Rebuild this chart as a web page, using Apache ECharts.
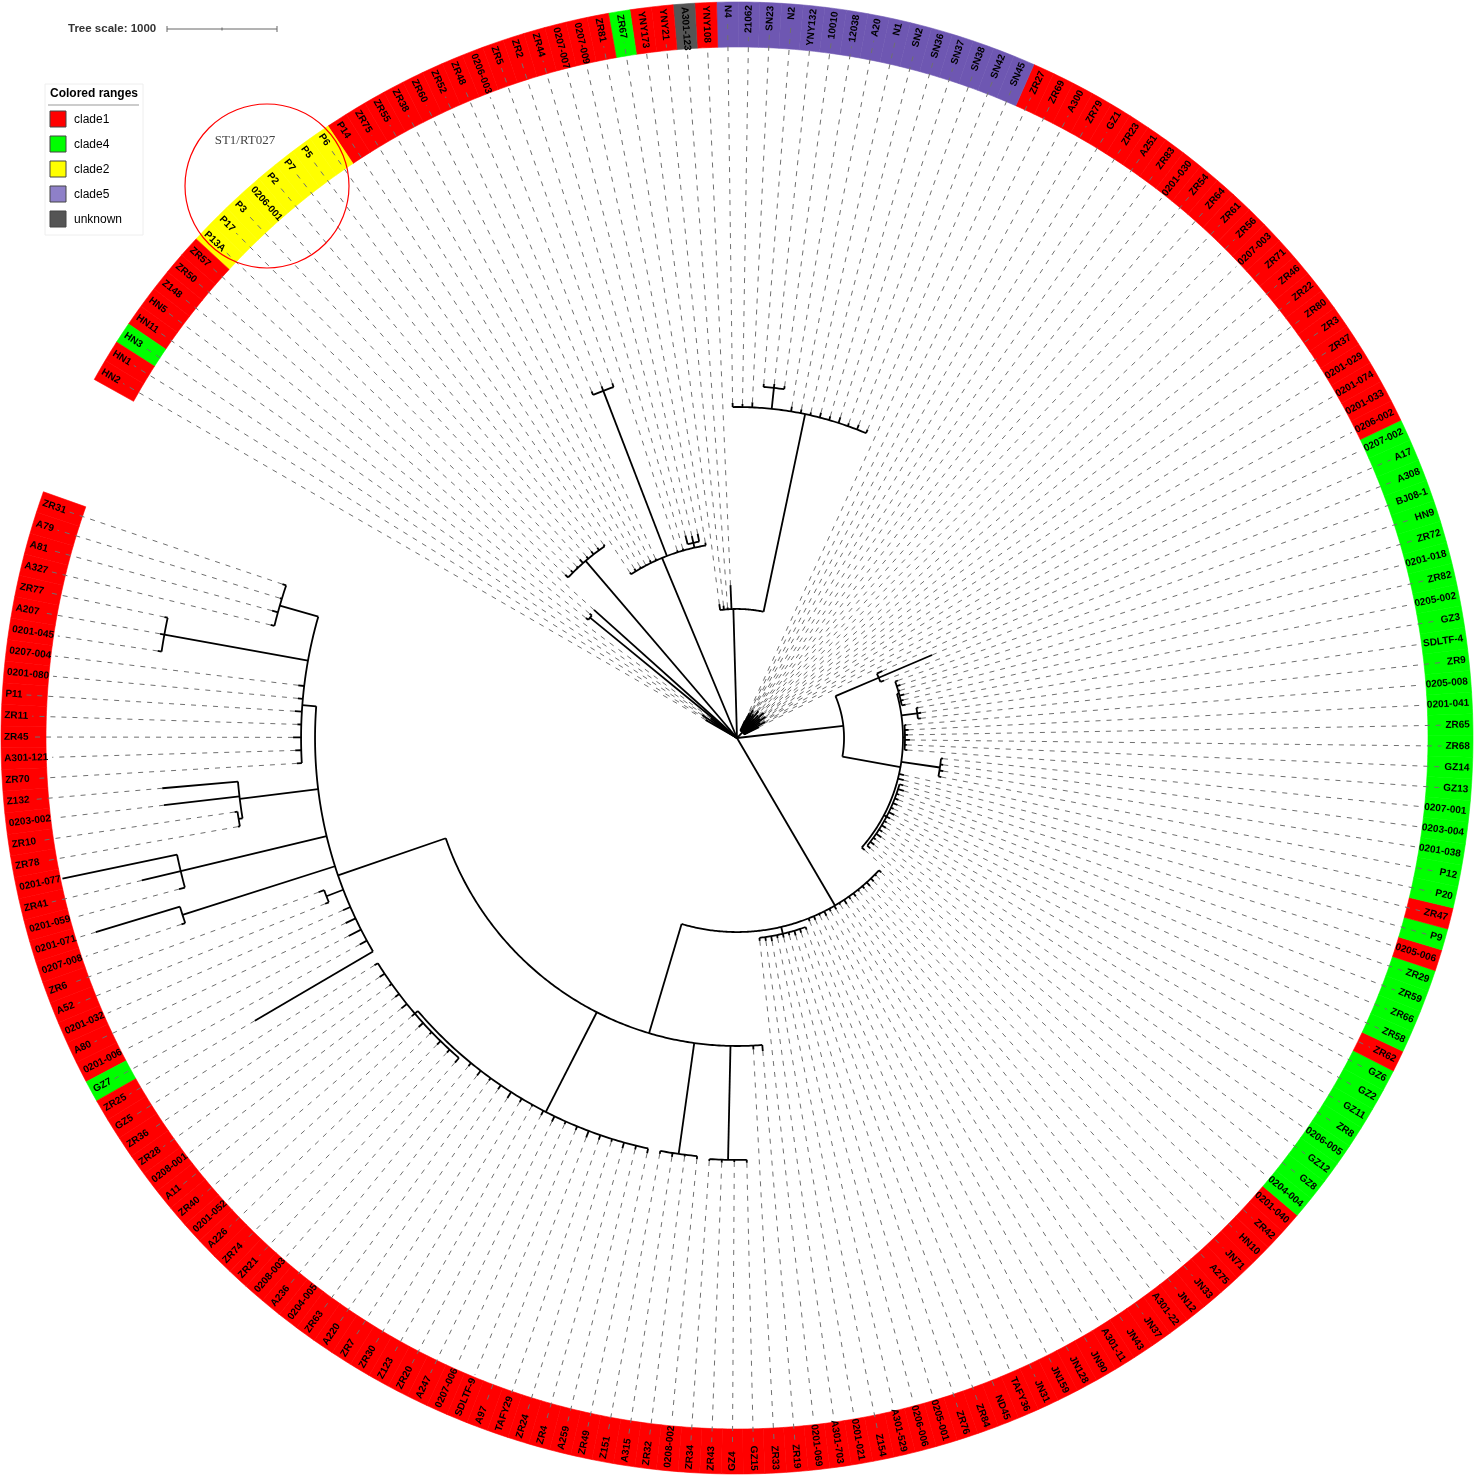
<!DOCTYPE html>
<html><head><meta charset="utf-8">
<script src="https://cdn.jsdelivr.net/npm/echarts@6/dist/echarts.min.js"></script>
<style>html,body{margin:0;padding:0;background:#fff}#chart{width:1476px;height:1476px}</style>
</head><body><div id="chart"></div>
<script>
// ---------------- DATA ----------------
// Tree topology with branch lengths (tree units), leaves in ring order
const TREE_NEWICK =
 "(" +
  "(" +
   "(" +
    "(" +
     "((ZR31:36,A79:18,A81:55,A327:36):364,(ZR77:30,A207:40,0201-045:36):1327,0207-004:55,0201-080:45,P11:64,ZR11:36,ZR45:73,A301-121:55,ZR70:45):127," +
     "(Z132:691,0203-002:691,(ZR10:27,ZR78:18):36):718," +
     "(0201-077:1064,ZR41:364,0201-059:55):1364," +
     "(0201-071:800,0207-008:36):1455," +
     "(ZR6:55,A52:36):164," +
     "0201-032:73,A80:100,0201-006:127,GZ7:73,ZR25:1245" +
    "):1036," +
    "((GZ5:36,ZR36:55,ZR28:27,0208-001:45,A11:64,ZR40:36,0201-052:55,A226:27,ZR74:45,ZR21:36,0208-003:55):36,A236:36,0204-005:55,ZR63:27,A220:45,ZR7:64,ZR30:36,Z123:18,ZR20:45,A247:55,0207-006:27,SDLTF-9:36,A97:64,TAFY29:45,ZR24:27,ZR4:55,A259:36,ZR49:45):1018," +
    "(Z151:27,A315:36,ZR32:18,0208-002:27):1018," +
    "(ZR34:18,ZR43:27,GZ4:18,GZ15:27):1036," +
    "ZR33:36,ZR19:55" +
   "):1036," +
   "(0201-069:27,A301-703:36,0201-021:45,Z154:27,A301-529:36,0206-006:27,0205-001:45,ZR76:36,ZR84:27):64," +
   "ND45:27,TAFY36:36,JN31:18,JN159:45,JN128:27,JN90:36,A301-11:18,JN43:45,JN37:27,A301-22:36,JN12:18,JN33:27,A275:45,JN71:36,HN10:18,ZR42:27" +
  "):1764," +
  "(" +
   "(0201-040:36,(0204-004:36,GZ8:45,GZ12:27,0206-005:55,ZR8:36,GZ11:45,GZ2:27,GZ6:36,ZR62:55,ZR58:27,ZR66:45,ZR59:36,ZR29:27,0205-006:55,P9:36):27,ZR47:55,P20:45,(P12:27,0201-038:36,0203-004:27,0207-001:18):355,(GZ13:27,GZ14:18,ZR68:45,ZR65:27,0201-041:36,0205-008:18):18,(ZR9:27,SDLTF-4:36,GZ3:18):145,(0205-002:36,ZR82:27,0201-018:45,ZR72:18,HN9:36,BJ08-1:27):18):536," +
   "(A308:36,A17:527,0207-002:55):427" +
  "):973," +
  "(0206-002:150,0201-033:100,0201-074:220,0201-029:80,ZR37:180,ZR3:120,ZR80:250,ZR22:90,ZR46:200,ZR71:140,0207-003:260,ZR56:110,ZR61:210,ZR64:160,ZR54:90,0201-030:240,ZR83:130,A251:190,ZR23:70,GZ1:170,ZR79:220,A300:120,ZR69:180,ZR27:100):73," +
  "((SN45:36,SN42:45,SN38:27,SN37:55,SN36:36,SN2:45,N1:27,A20:36,12038:45,(10010:27,YNY132:36,N2:27):191,SN23:45,21062:27,N4:36):1836,YNY108:218,A301-123:18,YNY21:36,YNY173:55):1173," +
  "(ZR67:27,(ZR81:73,0207-009:64,0207-007:82):45,ZR44:18,ZR2:18,(ZR5:36,0206-003:45,ZR48:36):1609,ZR52:18,ZR60:27,ZR38:9,ZR55:18,ZR75:27,P14:18):1773," +
  "(P6:18,P5:27,P7:36,P2:27,0206-001:45,P3:18,P17:27,P13A:36):2118," +
  "ZR57:1745,(ZR50:27,Z148:27):1727,HN5:300,HN11:250,HN3:380,HN1:220,HN2:330" +
 ");";

// Colored ranges: [first leaf, last leaf, clade]
const CLADE_RANGES = [
 ['ZR31','0201-006','clade1'], ['GZ7','GZ7','clade4'], ['ZR25','0201-040','clade1'],
 ['0204-004','GZ6','clade4'], ['ZR62','ZR62','clade1'], ['ZR58','ZR29','clade4'],
 ['0205-006','0205-006','clade1'], ['P9','P9','clade4'], ['ZR47','ZR47','clade1'],
 ['P20','0207-002','clade4'], ['0206-002','ZR27','clade1'], ['SN45','N4','clade5'],
 ['YNY108','YNY108','clade1'], ['A301-123','A301-123','unknown'], ['YNY21','YNY173','clade1'],
 ['ZR67','ZR67','clade4'], ['ZR81','P14','clade1'], ['P6','P13A','clade2'],
 ['ZR57','HN11','clade1'], ['HN3','HN3','clade4'], ['HN1','HN2','clade1']
];
const LEGEND_NAMES = ['clade1','clade4','clade2','clade5','unknown'];
const RING_COLORS = {clade1:'#FF0000', clade4:'#00FF00', clade2:'#FFFF00', clade5:'#6E57B2', unknown:'#555555'};
const LEGEND_COLORS = {clade1:'#FF0000', clade4:'#00FF00', clade2:'#FFFF00', clade5:'#8E80C8', unknown:'#555555'};
const TREE_SCALE_UNITS = 1000;
const LEGEND_TITLE = 'Colored ranges';
const ANNOTATION = 'ST1/RT027';

// ---------------- LAYOUT CONSTANTS ----------------
const CENTER = [737, 738];
const R_OUT_PX = 736, RING_W_PX = 45, LABEL_PAD_PX = 3;
const SCALE_BAR_PX = 110;                    // pixels for TREE_SCALE_UNITS
const UNITS_PER_PX = TREE_SCALE_UNITS / SCALE_BAR_PX;
const FIRST_LEAF_ANGLE = 161.3, LEAF_STEP_DEG = 1.6927;
const TOTAL_SLOTS = 360 / LEAF_STEP_DEG;
const LABEL_FONT = 'bold 10px "Liberation Sans", Arial, sans-serif';

// ---------------- PARSE + LAYOUT ----------------
function parseNewick(str){
  let i=0;
  function node(){
    const n={name:'',len:0,children:[]};
    if(str[i]==='('){
      i++;
      while(true){
        n.children.push(node());
        if(str[i]===','){i++;continue;}
        if(str[i]===')'){i++;break;}
        throw new Error('bad newick at '+i);
      }
    }
    let name='';
    while(i<str.length && ',():;'.indexOf(str[i])<0) name+=str[i++];
    n.name=name.trim();
    if(str[i]===':'){i++; let num=''; while(i<str.length && ',();'.indexOf(str[i])<0) num+=str[i++]; n.len=parseFloat(num);}
    return n;
  }
  return node();
}
const root = parseNewick(TREE_NEWICK);
const leaves=[], radials=[], arcs=[];
(function lay(n, parentR){
  n.r = parentR + n.len;
  if(!n.children.length){ n.slot = leaves.length + 1; leaves.push(n); }
  else {
    n.children.forEach(c=>lay(c, n.r));
    const ss = n.children.map(c=>c.slot);
    n.slot = ss.reduce((a,b)=>a+b,0)/ss.length;
    if(n.r>0 && ss.length>1) arcs.push([n.r, Math.min.apply(null,ss), Math.max.apply(null,ss)]);
  }
  if(n!==root) radials.push([n.slot, parentR, n.r]);
})(root, 0);

const nameIdx={};
leaves.forEach((l,i)=>{ if(!(l.name in nameIdx)) nameIdx[l.name]=i; });
const leafClade = leaves.map(()=> 'clade1');
CLADE_RANGES.forEach(([a,b,c])=>{ for(let k=nameIdx[a]; k<=nameIdx[b]; k++) leafClade[k]=c; });

const mctx = document.createElement('canvas').getContext('2d');
mctx.font = LABEL_FONT;
const labelW = leaves.map(l=>mctx.measureText(l.name).width);

const RAD_MAX = R_OUT_PX * UNITS_PER_PX;
const R_IN_U = (R_OUT_PX - RING_W_PX) * UNITS_PER_PX;
const R_LABEL_U = (R_OUT_PX - LABEL_PAD_PX) * UNITS_PER_PX;

const ringData = leaves.map((l,i)=>[l.slot, i]);
const dashData = leaves.map((l,i)=>{
  const endU = (R_OUT_PX - LABEL_PAD_PX - labelW[i] - 4) * UNITS_PER_PX;
  return [l.slot, l.r, Math.max(endU, l.r)];
});

// ---------------- GRAPHIC (legend, scale, annotation) ----------------
const graphic = [];
graphic.push({type:'text', x:68, y:29, z:100, style:{text:'Tree scale: ' + TREE_SCALE_UNITS, font:'bold 11.5px "Liberation Sans", Arial', fill:'#333', verticalAlign:'middle'}});
const sbx = 167, sby = 29, sbl = TREE_SCALE_UNITS / UNITS_PER_PX;
graphic.push({type:'line', z:100, shape:{x1:sbx,y1:sby,x2:sbx+sbl,y2:sby}, style:{stroke:'#666',lineWidth:1}});
graphic.push({type:'line', z:100, shape:{x1:sbx,y1:sby-3,x2:sbx,y2:sby+3}, style:{stroke:'#666',lineWidth:1}});
graphic.push({type:'line', z:100, shape:{x1:sbx+sbl,y1:sby-3,x2:sbx+sbl,y2:sby+3}, style:{stroke:'#666',lineWidth:1}});
graphic.push({type:'line', z:100, shape:{x1:sbx+sbl/2,y1:sby-1.5,x2:sbx+sbl/2,y2:sby+1.5}, style:{stroke:'#666',lineWidth:1}});
graphic.push({type:'rect', z:99, shape:{x:45,y:84,width:98,height:151}, style:{fill:'#fff',stroke:'#eeeeee',lineWidth:1}});
graphic.push({type:'text', x:50, y:94, z:100, style:{text:LEGEND_TITLE, font:'bold 12px "Liberation Sans", Arial', fill:'#000', verticalAlign:'middle'}});
graphic.push({type:'line', z:100, shape:{x1:48,y1:105,x2:139,y2:105}, style:{stroke:'#999',lineWidth:1}});
LEGEND_NAMES.forEach((nm,k)=>{
  graphic.push({type:'rect', z:100, shape:{x:50,y:111+25*k,width:16,height:16}, style:{fill:LEGEND_COLORS[nm],stroke:'#444',lineWidth:1}});
  graphic.push({type:'text', x:74, y:119.5+25*k, z:100, style:{text:nm, font:'12px "Liberation Sans", Arial', fill:'#000', verticalAlign:'middle'}});
});
graphic.push({type:'circle', z:100, shape:{cx:267,cy:186,r:82}, style:{fill:'none',stroke:'#FF0000',lineWidth:1.2}});
graphic.push({type:'text', x:245, y:141, z:100, style:{text:ANNOTATION, font:'13px "Liberation Serif", "Times New Roman", serif', fill:'#444', align:'center', verticalAlign:'middle'}});

// ---------------- CHART ----------------
const chart = echarts.init(document.getElementById('chart'), null, {renderer:'canvas'});
const option = {
  animation:false,
  backgroundColor:'#fff',
  polar:{center:CENTER, radius:R_OUT_PX},
  angleAxis:{type:'value', min:0, max:TOTAL_SLOTS, startAngle:FIRST_LEAF_ANGLE - LEAF_STEP_DEG, clockwise:false, show:false},
  radiusAxis:{type:'value', min:0, max:RAD_MAX, show:false},
  series:[
    { // colored ring + labels
      type:'custom', coordinateSystem:'polar', silent:true, z:1,
      data: ringData,
      renderItem:(params, api)=>{
        const s = api.value(0), i = params.dataIndex;
        const col = RING_COLORS[leafClade[i]];
        const pts=[], n=4;
        for(let k=0;k<=n;k++) pts.push(api.coord([RAD_MAX, s-0.5+k/n]));
        for(let k=n;k>=0;k--) pts.push(api.coord([R_IN_U, s-0.5+k/n]));
        const c = api.coord([0, s]);
        const p = api.coord([R_LABEL_U, s]);
        const ang = Math.atan2(-(p[1]-c[1]), p[0]-c[0]);
        const right = Math.cos(ang) >= -1e-6;
        return {type:'group', children:[
          {type:'polygon', shape:{points:pts}, style:{fill:col, stroke:col, lineWidth:0.6}},
          {type:'text', x:p[0], y:p[1], rotation: right ? ang : ang + Math.PI,
           style:{text:leaves[i].name, font:LABEL_FONT, fill:'#000', align: right ? 'right' : 'left', verticalAlign:'middle'}}
        ]};
      }
    },
    { // dashed leader lines
      type:'custom', coordinateSystem:'polar', silent:true, z:2,
      data: dashData,
      renderItem:(params, api)=>{
        const s=api.value(0), r1=api.value(1), r2=api.value(2);
        if(r2 - r1 < 1) return null;
        const a=api.coord([r1,s]), b=api.coord([r2,s]);
        return {type:'line', shape:{x1:a[0],y1:a[1],x2:b[0],y2:b[1]}, style:{stroke:'#707070', lineWidth:1, lineDash:[5,6]}};
      }
    },
    { // node arcs
      type:'custom', coordinateSystem:'polar', silent:true, z:3,
      data: arcs,
      renderItem:(params, api)=>{
        const r=api.value(0), a1=api.value(1), a2=api.value(2);
        const pts=[]; const steps=Math.max(2, Math.ceil((a2-a1)/0.25));
        for(let k=0;k<=steps;k++) pts.push(api.coord([r, a1+(a2-a1)*k/steps]));
        return {type:'polyline', shape:{points:pts}, style:{stroke:'#000', lineWidth:1.8, fill:'none'}};
      }
    },
    { // radial branches
      type:'custom', coordinateSystem:'polar', silent:true, z:3,
      data: radials,
      renderItem:(params, api)=>{
        const s=api.value(0), r1=api.value(1), r2=api.value(2);
        const a=api.coord([r1,s]), b=api.coord([r2,s]);
        return {type:'line', shape:{x1:a[0],y1:a[1],x2:b[0],y2:b[1]}, style:{stroke:'#000', lineWidth:1.8}};
      }
    }
  ],
  graphic: graphic
};
chart.setOption(option);
</script>
</body></html>
